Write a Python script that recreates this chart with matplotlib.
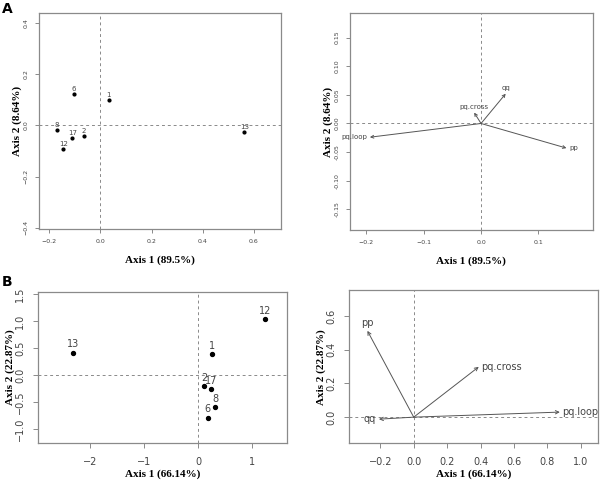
import matplotlib
matplotlib.use('Agg')
import matplotlib.pyplot as plt

# Panel A: sites and variables on first two axes
a_sites = ['1', '2', '6', '8', '12', '13', '17']
a_x = [0.033, -0.065, -0.105, -0.169, -0.145, 0.5625, -0.11]
a_y = [0.099, -0.040, 0.122, -0.017, -0.092, -0.026, -0.048]

a_vars = ['pp', 'qq', 'pq.cross', 'pq.loop']
a_vx = [0.149, 0.043, -0.012, -0.194]
a_vy = [-0.043, 0.052, 0.019, -0.024]

# Panel B
b_sites = ['1', '2', '6', '8', '12', '13', '17']
b_x = [0.254, 0.106, 0.174, 0.315, 1.235, -2.326, 0.23]
b_y = [0.389, -0.198, -0.785, -0.593, 1.037, 0.419, -0.259]

b_vars = ['pp', 'qq', 'pq.cross', 'pq.loop']
b_vx = [-0.277, -0.208, 0.389, 0.874]
b_vy = [0.513, -0.012, 0.299, 0.030]

a_xlab, a_ylab = 'Axis 1 (89.5%)', 'Axis 2 (8.64%)'
b_xlab, b_ylab = 'Axis 1 (66.14%)', 'Axis 2 (22.87%)'

BOX = '#8a8a8a'
TXT = '#444444'
serif = {'family': 'Liberation Serif', 'weight': 'bold'}


def r_style(ax, tsize, tlen, tpad):
    for s in ax.spines.values():
        s.set_color(BOX)
        s.set_linewidth(0.9)
    ax.tick_params(colors=BOX, labelcolor=TXT, labelsize=tsize, length=tlen,
                   width=0.7, pad=tpad)
    ax.tick_params(axis='y', labelrotation=90)
    for lab in ax.get_yticklabels():
        lab.set_va('center')
    ax.axhline(0, color=BOX, ls=(0, (3, 3)), lw=0.7)
    ax.axvline(0, color=BOX, ls=(0, (3, 3)), lw=0.7)


def put_label(ax, x, y, txt, side, size, off):
    pos = {'top': ((0, off), 'center', 'bottom'),
           'left': ((-off, 0), 'right', 'center'),
           'right': ((off, 0), 'left', 'center')}
    xy, ha, va = pos[side]
    ax.annotate(txt, (x, y), xytext=xy, textcoords='offset points',
                ha=ha, va=va, fontsize=size, color=TXT)


fig = plt.figure(figsize=(6, 4.83), dpi=100)

# ---- A left
ax1 = fig.add_axes([0.065, 0.526, 0.403, 0.447])
ax1.scatter(a_x, a_y, s=4, color='black', zorder=3)
for s, x, y in zip(a_sites, a_x, a_y):
    put_label(ax1, x, y, s, 'top', 5, 1.5)
ax1.set_xlim(-0.24, 0.705)
ax1.set_ylim(-0.405, 0.44)
ax1.set_xticks([-0.2, 0.0, 0.2, 0.4, 0.6])
ax1.set_yticks([-0.4, -0.2, 0.0, 0.2, 0.4])
r_style(ax1, 4.5, 3, 4.5)
ax1.set_xlabel(a_xlab, fontdict=serif, fontsize=8, labelpad=8)
ax1.set_ylabel(a_ylab, fontdict=serif, fontsize=8, labelpad=1)

# ---- A right
ax2 = fig.add_axes([0.583, 0.524, 0.405, 0.449])
a_side = {'pp': 'right', 'qq': 'top', 'pq.cross': 'top', 'pq.loop': 'left'}
for v, x, y in zip(a_vars, a_vx, a_vy):
    ax2.annotate('', xy=(x, y), xytext=(0, 0),
                 arrowprops=dict(arrowstyle='->', color='#555555', lw=0.7,
                                 shrinkA=0, shrinkB=0, mutation_scale=5))
    put_label(ax2, x, y, v, a_side[v], 5, 2)
ax2.set_xlim(-0.229, 0.195)
ax2.set_ylim(-0.186, 0.193)
ax2.set_xticks([-0.2, -0.1, 0.0, 0.1])
ax2.set_yticks([-0.15, -0.10, -0.05, 0.0, 0.05, 0.10, 0.15])
ax2.set_yticklabels(['-0.15', '-0.10', '-0.05', '0.00', '0.05', '0.10', '0.15'])
r_style(ax2, 4.5, 3, 4.5)
ax2.set_xlabel(a_xlab, fontdict=serif, fontsize=8, labelpad=8)
ax2.set_ylabel(a_ylab, fontdict=serif, fontsize=8, labelpad=1)

# ---- B left
ax3 = fig.add_axes([0.064, 0.082, 0.415, 0.314])
ax3.scatter(b_x, b_y, s=8, color='black', zorder=3)
for s, x, y in zip(b_sites, b_x, b_y):
    put_label(ax3, x, y, s, 'top', 7, 2.5)
ax3.set_xlim(-2.963, 1.648)
ax3.set_ylim(-1.26, 1.548)
ax3.set_xticks([-2, -1, 0, 1])
ax3.set_yticks([-1.0, -0.5, 0.0, 0.5, 1.0, 1.5])
r_style(ax3, 7, 3.5, 6)
ax3.set_xlabel(b_xlab, fontdict=serif, fontsize=8, labelpad=2)
ax3.set_ylabel(b_ylab, fontdict=serif, fontsize=8, labelpad=0)

# ---- B right
ax4 = fig.add_axes([0.582, 0.082, 0.414, 0.317])
b_side = {'pp': 'top', 'qq': 'left', 'pq.cross': 'right', 'pq.loop': 'right'}
for v, x, y in zip(b_vars, b_vx, b_vy):
    ax4.annotate('', xy=(x, y), xytext=(0, 0),
                 arrowprops=dict(arrowstyle='->', color='#555555', lw=0.7,
                                 shrinkA=0, shrinkB=0, mutation_scale=6))
    put_label(ax4, x, y, v, b_side[v], 7, 2)
ax4.set_xlim(-0.386, 1.10)
ax4.set_ylim(-0.156, 0.754)
ax4.set_xticks([-0.2, 0.0, 0.2, 0.4, 0.6, 0.8, 1.0])
ax4.set_yticks([0.0, 0.2, 0.4, 0.6])
r_style(ax4, 7, 3.5, 6)
ax4.set_xlabel(b_xlab, fontdict=serif, fontsize=8, labelpad=2)
ax4.set_ylabel(b_ylab, fontdict=serif, fontsize=8, labelpad=0)

fig.text(0.003, 0.995, 'A', fontsize=10, fontweight='bold', ha='left', va='top')
fig.text(0.003, 0.43, 'B', fontsize=10, fontweight='bold', ha='left', va='top')

fig.savefig('out.png', dpi=100)
